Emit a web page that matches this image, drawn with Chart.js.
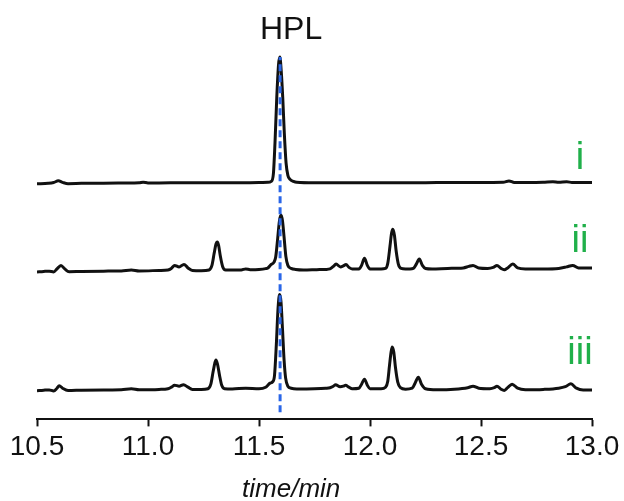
<!DOCTYPE html>
<html>
<head>
<meta charset="utf-8">
<script src="https://cdn.jsdelivr.net/npm/chart.js@4"></script>
<style>
  html, body { margin: 0; padding: 0; background: #fff; }
</style>
</head>
<body>
<canvas id="hplc_chart" width="624" height="501"></canvas>
<script>
// retention time of the HPL standard (dashed marker)
const hplTime = 11.595
const xTicks = [10.5, 11.0, 11.5, 12.0, 12.5, 13.0]
const traceNames = ['i', 'ii', 'iii']

// trace i
const timesI = [10.50, 10.55, 10.575, 10.596, 10.615, 10.64, 10.70, 10.80, 10.90, 10.96, 10.978, 11.00, 11.10, 11.20, 11.30, 11.40, 11.50, 11.54, 11.555,
    11.565, 11.572, 11.58, 11.588, 11.594, 11.60, 11.607, 11.614, 11.622, 11.63, 11.64, 11.655, 11.67, 11.75, 11.85, 11.95, 12.05, 12.15, 12.25, 12.35,
    12.45, 12.55, 12.60, 12.626, 12.65, 12.70, 12.78, 12.824, 12.85, 12.886, 12.91, 12.95, 13.0]
const valuesI = [-0.5, 0, 0.8, 2.5, 1, -0.3, 0, 0.2, 0.3, 0.5, 1.2, 0.4, 0.5, 0.5, 0.6, 0.6, 0.8, 1, 2,
    10, 40, 85, 118, 125.5, 112, 85, 50, 20, 8, 4, 2, 1, 0.5, 0.5, 0.6, 0.6, 0.7, 0.7, 0.8,
    0.8, 0.9, 1, 2.4, 0.9, 0.8, 1, 1.6, 1, 1.6, 0.9, 0.8, 0.8]

// trace ii
const timesII = [10.50, 10.53, 10.555, 10.575, 10.59, 10.608, 10.625, 10.645, 10.70, 10.80, 10.88, 10.925, 10.96, 11.05, 11.09, 11.105, 11.12, 11.14,
    11.162, 11.18, 11.20, 11.24, 11.275, 11.288, 11.298, 11.306, 11.312, 11.318, 11.326, 11.336, 11.35, 11.38, 11.42, 11.44, 11.46, 11.50, 11.53,
    11.54, 11.555, 11.567, 11.575, 11.583, 11.592, 11.599, 11.606, 11.613, 11.621, 11.63, 11.645, 11.665, 11.70, 11.76, 11.80, 11.82, 11.835,
    11.847, 11.867, 11.88, 11.892, 11.905, 11.92, 11.95, 11.962, 11.975, 11.988, 12.0, 12.02, 12.05, 12.07, 12.08, 12.09, 12.097, 12.103, 12.11,
    12.118, 12.128, 12.14, 12.16, 12.18, 12.195, 12.208, 12.222, 12.236, 12.25, 12.28, 12.35, 12.42, 12.445, 12.464, 12.49, 12.53, 12.555, 12.572,
    12.59, 12.605, 12.62, 12.643, 12.665, 12.70, 12.78, 12.85, 12.885, 12.913, 12.94, 12.97, 13.0]
const valuesII = [-0.5, 0, 0.3, -0.5, 2.5, 6, 2.5, -0.3, 0, 0.3, 0.5, 1.5, 0.5, 1, 1.5, 3, 6, 4.5,
    7, 3.5, 1, 0.8, 1.5, 6, 18, 27, 29.3, 26, 15, 5, 1.5, 1.5, 1.5, 2.5, 1.8, 2, 2.8,
    3.5, 7, 9, 14, 30, 50, 56, 50, 34, 15, 6, 3, 2, 1.5, 1.8, 2, 2.5, 5,
    7.3, 4.5, 5.5, 7, 4, 2.5, 2.5, 6, 13, 6, 2.5, 2.5, 2.5, 3, 8, 25, 38, 42, 36,
    20, 7, 3, 2.5, 2.5, 3, 7, 12.3, 6, 3, 2.5, 3, 3.5, 5, 6, 3.5, 3, 4, 6,
    3, 1.7, 3.5, 7.3, 3.5, 2.5, 2.5, 3, 4.5, 6, 3.5, 3.3, 3.3]

// trace iii
const timesIII = [10.50, 10.53, 10.555, 10.575, 10.59, 10.60, 10.615, 10.64, 10.70, 10.80, 10.88, 10.925, 10.96, 11.05, 11.09, 11.105, 11.12, 11.14,
    11.16, 11.18, 11.20, 11.24, 11.27, 11.283, 11.293, 11.301, 11.306, 11.313, 11.322, 11.332, 11.345, 11.38, 11.44, 11.50, 11.53, 11.55, 11.562,
    11.57, 11.578, 11.586, 11.593, 11.599, 11.606, 11.613, 11.62, 11.63, 11.645, 11.67, 11.75, 11.80, 11.82, 11.835, 11.845, 11.865, 11.88, 11.89,
    11.905, 11.92, 11.95, 11.962, 11.975, 11.988, 12.0, 12.05, 12.07, 12.08, 12.088, 12.095, 12.10, 12.107, 12.115, 12.125, 12.137, 12.16, 12.19,
    12.203, 12.218, 12.232, 12.25, 12.30, 12.38, 12.44, 12.464, 12.49, 12.54, 12.56, 12.572, 12.59, 12.605, 12.62, 12.64, 12.665, 12.70, 12.78,
    12.85, 12.88, 12.905, 12.93, 12.96, 13.0]
const valuesIII = [-0.5, 0, 0.3, -0.8, 2, 4.5, 2, -0.3, 0, 0.3, 0.5, 1.5, 0.5, 0.8, 1.5, 3, 5, 4,
    5.5, 3, 0.8, 0.8, 1.5, 6, 18, 27, 30, 26, 15, 5, 1.5, 1.2, 2, 1.5, 3, 7, 8.5,
    15, 45, 82, 95, 88, 60, 30, 12, 4, 2, 1.3, 1.5, 2, 2.5, 4, 5.5, 3.5, 4, 5,
    3, 1.5, 2, 6, 11, 5, 1.5, 1.5, 3, 9, 25, 38, 43, 38, 22, 8, 2.5, 1, 2,
    7, 13, 6, 1.5, 0.5, 1, 2.5, 4, 2, 1.5, 2.5, 4, 1, -0.3, 2.5, 6, 2, 0.5, 0.8,
    2, 3.5, 6.3, 2, 0.3, 0.3]

// vertical stacking of the three traces
const traceOffsets = [234.5, 147, 29]
const markerSpan = [7, 360]

function toPoints(times, values, offset) {
    return times.map((t, i) => ({ x: t, y: values[i] + offset }))
}

const traceData = [
    toPoints(timesI, valuesI, traceOffsets[0]),
    toPoints(timesII, valuesII, traceOffsets[1]),
    toPoints(timesIII, valuesIII, traceOffsets[2]),
]

const textLayer = {
    id: 'textLayer',
    afterDraw(chart) {
        const ctx = chart.ctx
        const xs = chart.scales.x
        const ys = chart.scales.y
        const labelX = chart.chartArea.right - 12
        ctx.save()
        ctx.textAlign = 'center'
        ctx.textBaseline = 'alphabetic'
        ctx.fillStyle = '#111'
        ctx.font = '32px "Liberation Sans", Arial, sans-serif'
        ctx.fillText('HPL', xs.getPixelForValue(hplTime) + 11, 39)
        ctx.font = 'italic 26px "Liberation Sans", Arial, sans-serif'
        ctx.fillText('time/min', xs.getPixelForValue(11.645), 497)
        ctx.fillStyle = '#20b04a'
        ctx.font = '38px "Liberation Sans", Arial, sans-serif'
        const lift = [14.5, 19, 26]
        traceNames.forEach((name, i) => {
            ctx.fillText(name, labelX, ys.getPixelForValue(traceOffsets[i] + lift[i]))
        })
        ctx.restore()
    }
}

window.onload = function () {
    let context = document.querySelector('#hplc_chart').getContext('2d')
    new Chart(context, {
        type: 'line',
        data: {
            datasets: [{
                label: 'HPL',
                data: [{ x: hplTime, y: markerSpan[0] }, { x: hplTime, y: markerSpan[1] }],
                borderColor: '#2a66e8',
                borderWidth: 3,
                borderDash: [7, 4],
                pointRadius: 0,
                order: 0,
            }].concat(traceData.map((pts, i) => ({
                label: traceNames[i],
                data: pts,
                borderColor: '#111',
                borderWidth: 3,
                pointRadius: 0,
                cubicInterpolationMode: 'monotone',
                order: 1,
            }))),
        },
        options: {
            responsive: false,
            animation: false,
            layout: {
                padding: { left: 37, right: 32, top: 50, bottom: 33 },
            },
            plugins: {
                legend: { display: false },
                tooltip: { enabled: false },
            },
            scales: {
                x: {
                    type: 'linear',
                    min: xTicks[0],
                    max: xTicks[xTicks.length - 1],
                    afterBuildTicks: (axis) => { axis.ticks = xTicks.map(v => ({ value: v })) },
                    grid: {
                        drawOnChartArea: false,
                        drawTicks: true,
                        tickLength: 7,
                        tickWidth: 2,
                        tickColor: '#111',
                    },
                    border: { display: true, color: '#111', width: 2 },
                    ticks: {
                        color: '#111',
                        padding: 4,
                        maxRotation: 0,
                        font: { family: '"Liberation Sans", Arial, sans-serif', size: 28 },
                        callback: (v) => Number(v).toFixed(1),
                    },
                },
                y: {
                    display: false,
                    min: 0,
                    max: 367,
                },
            },
        },
        plugins: [textLayer],
    })
}
</script>
</body>
</html>
